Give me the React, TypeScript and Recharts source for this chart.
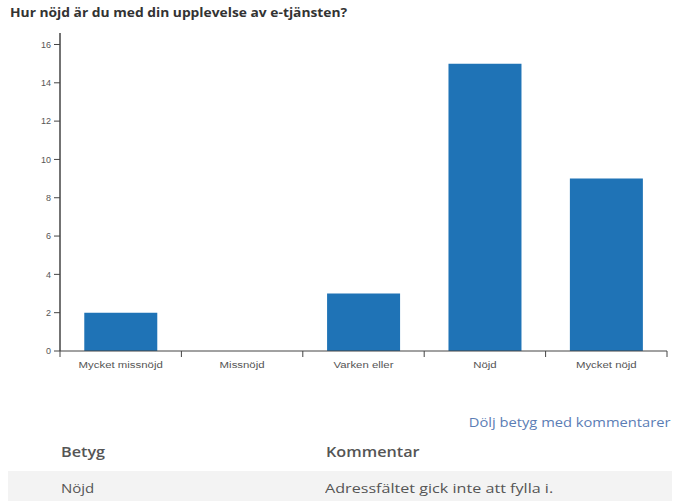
import { Bar, BarChart, XAxis, YAxis } from "recharts";

const categories = ["Mycket missnöjd", "Missnöjd", "Varken eller", "Nöjd", "Mycket nöjd"];
const counts = [2, 0, 3, 15, 9];
const yTicks = [0, 2, 4, 6, 8, 10, 12, 14, 16];

const tableRows = [{ betyg: "Nöjd", kommentar: "Adressfältet gick inte att fylla i." }];

const data = categories.map((name, i) => ({ name, count: counts[i] }));

const AXIS = "#444";
const TEXT = "#555";
const TICK_SIZE = 6;
const TICK_MARGIN = 4;
const STRETCH = 1.2;

// label at band centre, tick mark on the band edges (d3-style)
function CategoryTick(props: any) {
  const { x, y, payload, index, visibleTicksCount } = props;
  const half = payload?.offset ?? 0;
  const axisY = y - TICK_SIZE - TICK_MARGIN;
  const isLast = index === visibleTicksCount - 1;
  return (
    <g>
      <line x1={x - half} x2={x - half} y1={axisY} y2={axisY + TICK_SIZE} stroke={AXIS} />
      {isLast && <line x1={x + half} x2={x + half} y1={axisY} y2={axisY + TICK_SIZE} stroke={AXIS} />}
      <text
        transform={`translate(${x},${y}) scale(${STRETCH},1)`}
        textAnchor="middle"
        dy="0.71em"
        fontSize={9.5}
        fill={TEXT}
        fontFamily="'Liberation Sans', Arial, sans-serif"
      >
        {payload.value}
      </text>
    </g>
  );
}

const stretched = (extra: object) => ({
  position: "absolute" as const,
  whiteSpace: "nowrap" as const,
  transform: `scaleX(${STRETCH})`,
  transformOrigin: "left center",
  ...extra,
});

export default function App() {
  return (
    <div
      style={{
        position: "relative",
        width: 682,
        height: 501,
        overflow: "hidden",
        background: "#fff",
        fontFamily: "'Open Sans', sans-serif",
      }}
    >
      <style>{"body{margin:0}"}</style>
      <div style={stretched({ left: 10, top: 5, fontSize: 11.5, fontWeight: 700, color: "#333" })}>
        Hur nöjd är du med din upplevelse av e-tjänsten?
      </div>

      <div style={{ position: "absolute", left: 0, top: 0 }}>
        <BarChart
          width={682}
          height={390}
          data={data}
          margin={{ top: 33, right: 15, left: 0, bottom: 9 }}
          barCategoryGap="20%"
        >
          <XAxis
            dataKey="name"
            tickLine={false}
            tickSize={TICK_SIZE}
            tickMargin={TICK_MARGIN}
            axisLine={{ stroke: AXIS }}
            interval={0}
            height={30}
            tick={<CategoryTick />}
          />
          <YAxis
            domain={[0, 16.6]}
            ticks={yTicks}
            width={60}
            tickSize={6}
            tickMargin={3}
            allowDataOverflow
            axisLine={{ stroke: AXIS, strokeWidth: 1.5 }}
            tickLine={{ stroke: AXIS }}
            tick={{ fontSize: 9, fill: TEXT, fontFamily: "'Liberation Sans', Arial, sans-serif" }}
          />
          <Bar dataKey="count" fill="#1f73b6" isAnimationActive={false} />
        </BarChart>
      </div>

      <div
        style={{
          position: "absolute",
          right: 12,
          top: 413,
          fontSize: 13,
          color: "#5b7db5",
          whiteSpace: "nowrap",
          transform: "scaleX(1.13)",
          transformOrigin: "right center",
        }}
      >
        Dölj betyg med kommentarer
      </div>

      <div style={stretched({ left: 61, top: 443, fontSize: 13.5, fontWeight: 600, color: TEXT })}>Betyg</div>
      <div style={stretched({ left: 326, top: 443, fontSize: 13.5, fontWeight: 600, color: TEXT })}>
        Kommentar
      </div>

      {tableRows.map((row) => (
        <div
          key={row.betyg}
          style={{
            position: "absolute",
            left: 8,
            top: 471,
            width: 664,
            height: 34,
            background: "#f3f3f3",
            color: TEXT,
            fontSize: 12.5,
          }}
        >
          <span style={stretched({ left: 53, top: 9 })}>{row.betyg}</span>
          <span style={stretched({ left: 317, top: 9, transform: "scaleX(1.29)" })}>{row.kommentar}</span>
        </div>
      ))}
    </div>
  );
}
